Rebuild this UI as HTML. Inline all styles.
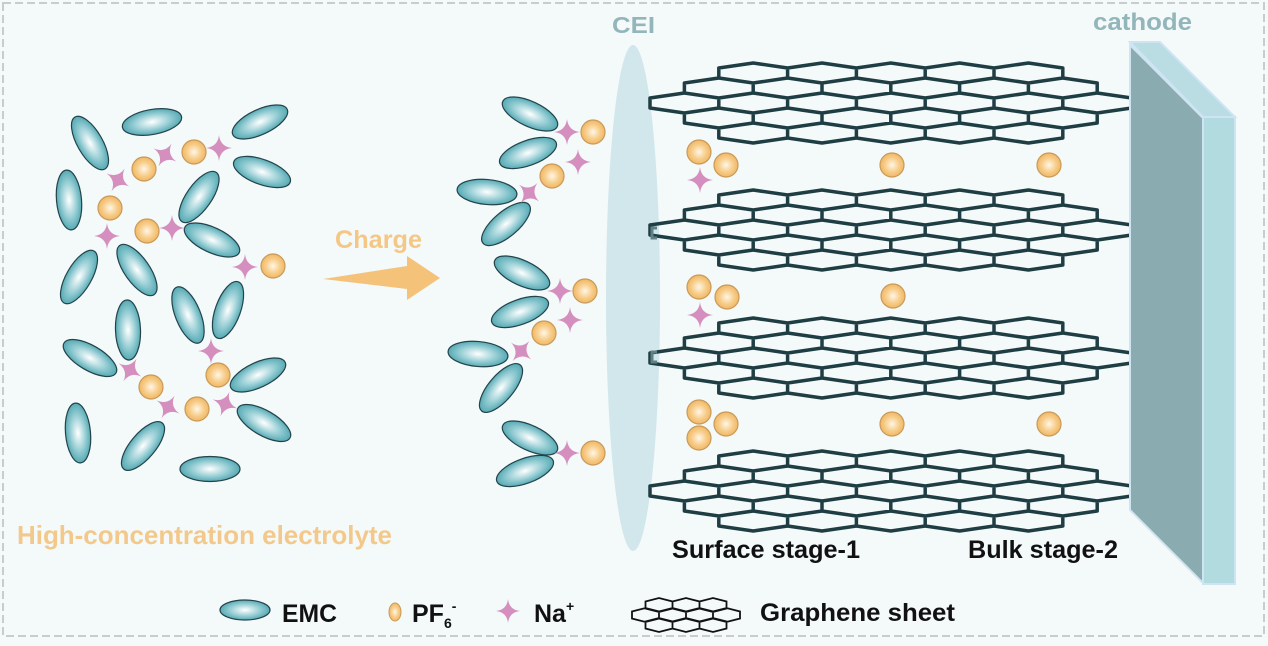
<!DOCTYPE html>
<html><head><meta charset="utf-8"><style>
html,body{margin:0;padding:0;background:#fff;}
svg{display:block;font-family:"Liberation Sans",sans-serif;}
</style></head><body>
<svg id="s" width="1268" height="646" viewBox="0 0 1268 646" xmlns="http://www.w3.org/2000/svg">
<defs>
<radialGradient id="eg" cx="0.5" cy="0.5" r="0.5"><stop offset="0" stop-color="#ffffff"/><stop offset="0.55" stop-color="#9fd2d8"/><stop offset="1" stop-color="#56aab4"/></radialGradient>
<radialGradient id="cg" cx="0.5" cy="0.5" r="0.5"><stop offset="0" stop-color="#fff6e6"/><stop offset="0.6" stop-color="#f7cd8a"/><stop offset="1" stop-color="#f0b865"/></radialGradient>
</defs>
<rect x="0" y="0" width="1268" height="646" fill="#f4f9fa"/>
<rect x="3" y="3" width="1261" height="633" fill="none" stroke="#c8cccd" stroke-width="2" stroke-dasharray="8 4"/>
<ellipse cx="633" cy="298" rx="27" ry="253" fill="#d2e7eb"/>
<g id="sheets" fill="none" stroke="#1f3e44" stroke-width="3.5" stroke-linejoin="round"></g>
<g stroke="#5f8186" stroke-width="3" fill="none"><path d="M657 228 h-5 v10 h5"/><path d="M657 352 h-5 v10 h5"/></g>
<polygon points="1130,42 1160,42 1235,117 1203,117" fill="#b9dde2" stroke="#cfe4f2" stroke-width="2"/>
<polygon points="1130,45 1203,118 1203,583 1130,510" fill="#8aabb0" stroke="#cfe4f2" stroke-width="2"/>
<rect x="1203" y="117" width="32" height="467" fill="#b2dbe0" stroke="#cfe4f2" stroke-width="2"/>
<polygon points="323,279 407,266 407,256 440,278 407,300 407,289" fill="#f5c27a"/>
<g id="mol"></g>
<g font-weight="bold">
<text x="335" y="248" font-size="25" fill="#f5c784" textLength="87" lengthAdjust="spacingAndGlyphs">Charge</text>
<text x="612" y="33" font-size="23" fill="#93b6bb" textLength="43" lengthAdjust="spacingAndGlyphs">CEI</text>
<text x="1093" y="30" font-size="24" fill="#93b6bb" textLength="99" lengthAdjust="spacingAndGlyphs">cathode</text>
<text x="17" y="544" font-size="26" fill="#f3c98b" textLength="375" lengthAdjust="spacingAndGlyphs">High-concentration electrolyte</text>
<text x="672" y="558" font-size="25" fill="#111" textLength="188" lengthAdjust="spacingAndGlyphs">Surface stage-1</text>
<text x="968" y="558" font-size="25" fill="#111" textLength="150" lengthAdjust="spacingAndGlyphs">Bulk stage-2</text>
<text x="282" y="622" font-size="25" fill="#111" textLength="55" lengthAdjust="spacingAndGlyphs">EMC</text>
<text x="412" y="622" font-size="25" fill="#111">PF<tspan font-size="14" dy="6">6</tspan><tspan font-size="14" dy="-17">-</tspan></text>
<text x="534" y="622" font-size="25" fill="#111">Na<tspan font-size="14" dy="-11">+</tspan></text>
<text x="760" y="621" font-size="25" fill="#111" textLength="195" lengthAdjust="spacingAndGlyphs">Graphene sheet</text>
</g>
</svg>
<script>
const NS="http://www.w3.org/2000/svg";
function el(p,t,a){const e=document.createElementNS(NS,t);for(const k in a)e.setAttribute(k,a[k]);p.appendChild(e);return e;}
const sh=document.getElementById('sheets');
function hex(x,y,W,h){return `M${x},${y+h/4} L${x+W/2},${y} L${x+W},${y+h/4} L${x+W},${y+3*h/4} L${x+W/2},${y+h} L${x},${y+3*h/4} Z`;}
function sheet(g,x0,y0,W,h,step,sw,rows){
 rows=rows||[[2,5],[1,6],[0,7],[1,6],[2,5]];
 let d="";
 rows.forEach((r,k)=>{for(let i=0;i<r[1];i++)d+=hex(x0+r[0]*W/2+i*W,y0+k*step,W,h);});
 el(g,'path',{d:d,'stroke-width':sw||3.5});
}
[63,190,318,451].forEach(y=>sheet(sh,650,y,68.8,20,15));
const lg=el(document.getElementById('s'),'g',{fill:'none',stroke:'#111'});
sheet(lg,632,598,27,14,10,1.8,[[1,3],[0,4],[1,3]]);
const m=document.getElementById('mol');
function E(x,y,a,rx,ry){el(m,'ellipse',{cx:x,cy:y,rx:rx||30,ry:ry||12.5,transform:`rotate(${a} ${x} ${y})`,fill:'url(#eg)',stroke:'#24434a','stroke-width':1.2});}
function C(x,y,r){el(m,'circle',{cx:x,cy:y,r:r||12,fill:'url(#cg)',stroke:'#c99a58','stroke-width':1.2});}
function S(x,y,a,r){r=r||13;const q=r*0.1;el(m,'path',{d:`M0,${-r} Q${q},${-q} ${r},0 Q${q},${q} 0,${r} Q${-q},${q} ${-r},0 Q${-q},${-q} 0,${-r}Z`,transform:`translate(${x} ${y}) rotate(${a||0})`,fill:'#d58fbe'});}
[[90,143,60],[152,122,-10],[260,122,-25],[262,172,20],[69,200,85],[199,197,-55],[212,240,25],[79,277,-60],[137,270,55],[188,315,68],[228,310,-70],[128,330,88],[90,358,30],[258,375,-25],[264,423,30],[78,433,85],[143,446,-50],[210,469,0],
 [530,114,25],[528,153,-20],[487,192,5],[506,224,-40],[522,273,25],[520,312,-20],[478,354,5],[501,388,-50],[530,438,25],[525,471,-20]].forEach(e=>E(e[0],e[1],e[2]));
[[144,169],[194,152],[110,208],[147,231],[273,266],[151,387],[218,375],[197,409],
 [593,132],[552,176],[585,291],[544,333],[593,453],
 [699,152],[726,165],[892,165],[1049,165],[699,287],[727,297],[893,296],[699,412],[699,438],[726,424],[892,424],[1049,424]].forEach(c=>C(c[0],c[1]));
[[118,180,30],[165,155,30],[219,148,0],[107,236,0],[172,228,0],[245,267,0],[130,370,30],[211,351,0],[168,407,30],[225,404,20],
 [567,132,0],[578,162,0],[529,193,40],[560,291,0],[570,320,0],[521,351,40],[567,453,0],[700,180,0],[700,315,0]].forEach(s=>S(s[0],s[1],s[2]));
E(245,610,0,25,10);
el(m,'ellipse',{cx:395,cy:612,rx:6,ry:9,fill:'url(#cg)',stroke:'#c99a58','stroke-width':1});
S(508,611,0,12);
</script>
</body></html>
